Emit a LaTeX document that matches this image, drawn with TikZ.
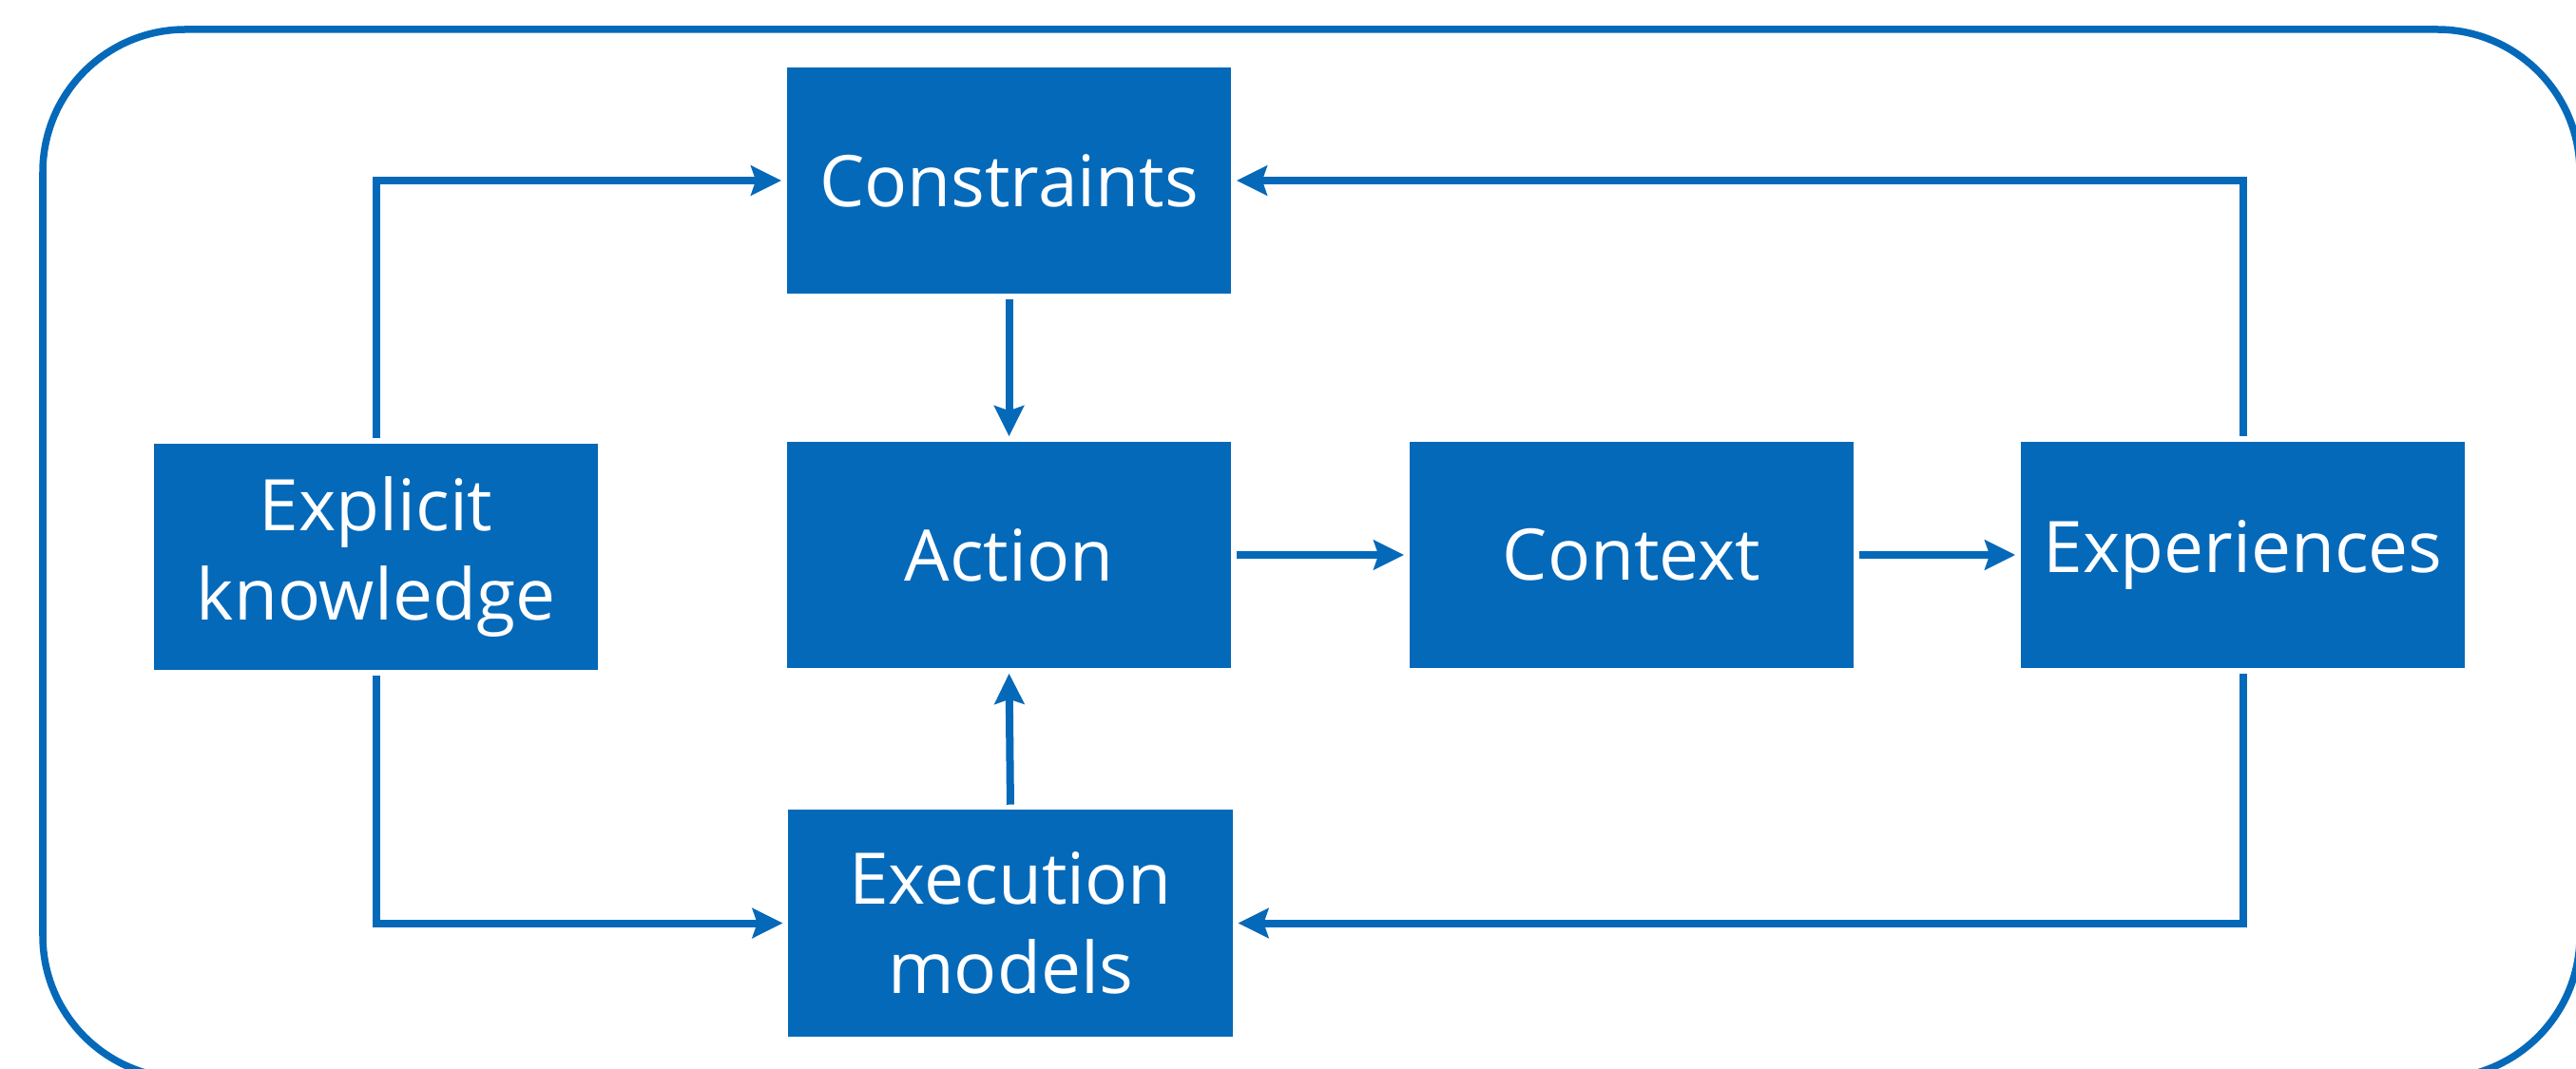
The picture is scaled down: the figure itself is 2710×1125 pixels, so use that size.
\documentclass[tikz,border=0pt]{standalone}
\usepackage{fontspec}
\setmainfont{Open Sans}
\usetikzlibrary{arrows.meta}
\definecolor{flowblue}{RGB}{5,105,185}
\tikzset{
  box/.style={fill=flowblue, draw=none, inner sep=0pt, minimum width=4.67cm, minimum height=2.38cm,
    text=white, align=center, font=\fontsize{21.3}{26.7}\selectfont},
  flow/.style={draw=flowblue, line width=0.08cm,
    -{Stealth[length=0.32cm, width=0.31cm, inset=0.05cm]},
    shorten <=0.05cm, shorten >=0.05cm},
  frame/.style={draw=flowblue, line width=0.075cm, rounded corners=1.5cm}
}
\begin{document}
\begin{tikzpicture}[x=0.01cm, y=-0.01cm]
  \useasboundingbox (0,0) rectangle (2710,1125);
  \clip (0,0) rectangle (2710,1125);
  % outer rounded frame, partly running off the page
  \draw[frame] (45,31) rectangle (2714,1135);

  % process boxes
  \node[box] (cons) at (1061.5,190)  {Constraints};
  \node[box] (act)  at (1061.5,584)  {Action};
  \node[box] (exec) at (1063,971.5)  {Execution\\models};
  \node[box] (expl) at (395.5,586)   {Explicit\\knowledge};
  \node[box] (ctx)  at (1716.5,584)  {Context};
  \node[box] (expe) at (2359.5,584)  {Experiences};

  % connectors
  \draw[flow] (expl.north) |- (cons.west);
  \draw[flow] (expl.south) |- (exec.west);
  \draw[flow] (expe.north) |- (cons.east);
  \draw[flow] (expe.south) |- (exec.east);
  \draw[flow] (cons.south) -- (act.north);
  \draw[flow] (exec.north) -- (act.south);
  \draw[flow] (act.east) -- (ctx.west);
  \draw[flow] (ctx.east) -- (expe.west);
\end{tikzpicture}
\end{document}
